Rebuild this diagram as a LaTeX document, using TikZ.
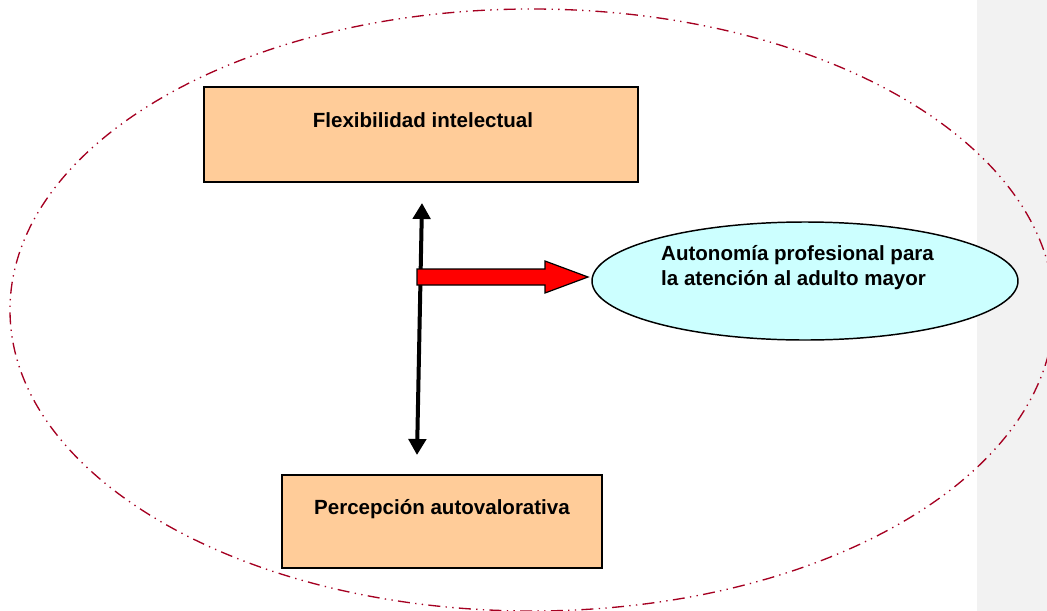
\documentclass[tikz,border=0pt]{standalone}
\usepackage{fontspec}
\setmainfont{Liberation Sans}
\usetikzlibrary{shapes.geometric,arrows.meta}
\definecolor{outline}{HTML}{A50021}
\definecolor{boxfill}{HTML}{FFCC99}
\definecolor{ellfill}{HTML}{CCFFFF}
\definecolor{strip}{HTML}{F2F2F2}
\tikzset{
  boxnode/.style={draw=black, fill=boxfill, line width=1.1pt, rectangle, inner sep=0pt},
  ellnode/.style={draw=black, fill=ellfill, line width=1.1pt, ellipse, inner sep=0pt},
  txt/.style={font=\fontsize{15.4}{18.8}\selectfont\bfseries, inner sep=0pt, text=black},
  outerring/.style={draw=outline, line width=1pt, dash pattern=on 9pt off 4pt on 1pt off 4pt on 1pt off 4pt},
  link/.style={draw=black, line width=3pt, {Triangle[width=13pt,length=12pt]}-{Triangle[width=13pt,length=12pt]}},
  blockarrow/.style={draw=black, fill=red, line width=0.9pt, line join=miter}
}
\begin{document}
\begin{tikzpicture}[x=0.75pt, y=-0.75pt]
\useasboundingbox (0,0) rectangle (1047,611);
\fill[strip] (977,0) rectangle (1047,611);
\draw[outerring] (532,310) ellipse [x radius=391.5pt, y radius=225.75pt];

\node[boxnode, minimum width=325.5pt, minimum height=71.25pt] (flex) at (421,134.5) {};
\node[txt] (flext) at ([xshift=1.5pt, yshift=10.9pt]flex.center) {Flexibilidad intelectual};

\node[boxnode, minimum width=240pt, minimum height=69.75pt] (perc) at (442,521.5) {};
\node[txt] (perct) at ([yshift=9.4pt]perc.center) {Percepción autovalorativa};

\node[ellnode, minimum width=319.5pt, minimum height=88.5pt] (auto) at (805,281) {};
\node[txt, align=left] (autot) at ([xshift=-5.6pt, yshift=10.1pt]auto.center) {Autonomía profesional para\\la atención al adulto mayor};

\coordinate (vtop) at (422,203);
\coordinate (vbot) at (417,455);
\draw[link] (vbot) -- (vtop);

\coordinate (rs) at (417,277);
\coordinate (rt) at (588,277);
\draw[blockarrow] ([yshift=6pt]rs) -- ([xshift=-32.25pt, yshift=6pt]rt) -- ([xshift=-32.25pt, yshift=12pt]rt) -- (rt) -- ([xshift=-32.25pt, yshift=-12pt]rt) -- ([xshift=-32.25pt, yshift=-6pt]rt) -- ([yshift=-6pt]rs) -- cycle;
\end{tikzpicture}
\end{document}
